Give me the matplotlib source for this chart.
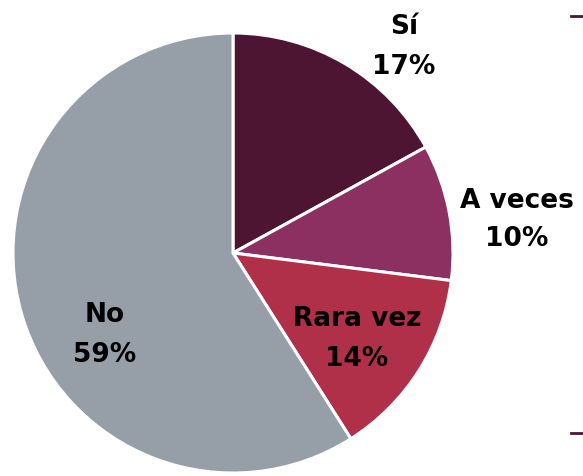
import numpy as np
from matplotlib import pyplot as plt

categories = ['Sí', 'A veces', 'Rara vez', 'No']
values = [17, 10, 14, 59]
colors = ['#4E1533', '#8C3062', '#B0304A', '#969FA8']

# label positions in pixels (reference image)
label_px = [(404, 47), (517, 220), (357, 339), (105, 335)]

W, H = 583, 476
cx, cy, R = 233, 253, 220

fig = plt.figure(figsize=(W / 100, H / 100), dpi=100)
ax = fig.add_axes([0, 0, 1, 1])
ax.pie(values, colors=colors, startangle=90, counterclock=False, radius=1,
       wedgeprops=dict(edgecolor='white', linewidth=2.2))
ax.set_xlim(-cx / R, (W - cx) / R)
ax.set_ylim(-(H - cy) / R, cy / R)
ax.set_aspect('equal')
ax.axis('off')

for cat, v, (px, py) in zip(categories, values, label_px):
    ax.text((px - cx) / R, (cy - py) / R, f'{cat}\n{v}%', ha='center', va='center',
            fontsize=19, fontweight='bold', linespacing=1.65, color='black',
            family='DejaVu Sans')

# small marks on right edge
for y in [16, 433]:
    fig.add_artist(plt.Line2D([571 / W, 1], [1 - y / H, 1 - y / H], color='#4E1533',
                              linewidth=2, transform=fig.transFigure))

fig.savefig('out.png', dpi=100)
